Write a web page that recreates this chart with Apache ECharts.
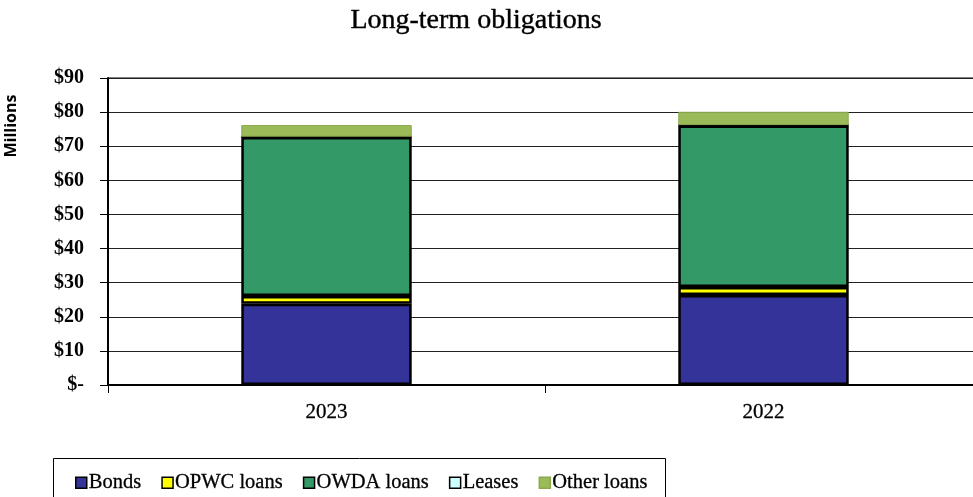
<!DOCTYPE html>
<html><head><meta charset="utf-8">
<script src="https://cdn.jsdelivr.net/npm/echarts@6/dist/echarts.min.js"></script>
<style>html,body{margin:0;padding:0;background:#fff}#c{width:973px;height:497px}</style>
</head><body><div id="c"></div>
<script>
const categories = ['2023', '2022'];
const bonds = [23.8, 26.4];
const opwcLoans = [2.3, 2.3];
const owdaLoans = [46.6, 47.4];
const leases = [0.1, 0.1];
const otherLoans = [3.4, 3.9];
const yTicks = [0, 10, 20, 30, 40, 50, 60, 70, 80, 90];

const serif = '"Liberation Serif", "DejaVu Serif", serif';
const chart = echarts.init(document.getElementById('c'), null, {renderer: 'canvas'});
function bar(name, data, color, border) {
  return {
    name: name, type: 'bar', stack: 'total', data: data, barWidth: '39%',
    itemStyle: {color: color, borderColor: border || '#000', borderWidth: border ? 1 : 2.5},
    emphasis: {disabled: true}
  };
}
chart.setOption({
  animation: false,
  title: {
    text: 'Long-term obligations', left: 471, top: 2, textAlign: 'center',
    textStyle: {fontFamily: serif, fontSize: 28, fontWeight: 'normal', color: '#000', textBorderColor: '#000', textBorderWidth: 0.4}
  },
  graphic: [
    {type: 'text', x: 11, y: 126, rotation: Math.PI / 2,
      style: {text: 'Millions', font: 'bold 16px "Open Sans", "DejaVu Sans", sans-serif', fill: '#000', textAlign: 'center', textVerticalAlign: 'middle'}},
    {type: 'rect', shape: {x: 53.5, y: 458.5, width: 612, height: 45}, style: {fill: 'none', stroke: '#000', lineWidth: 1}}
  ],
  grid: {left: 108, top: 78, width: 874, height: 307, outerBoundsMode: 'none', containLabel: false,
    show: true, borderColor: '#000', borderWidth: 1, backgroundColor: 'transparent'},
  legend: {
    left: 70, top: 467, itemWidth: 11, itemHeight: 11, itemGap: 20,
    icon: 'rect',
    itemStyle: {borderWidth: 1.5},
    textStyle: {fontFamily: serif, fontSize: 20.5, color: '#000', padding: [0, 0, 0, -3], textBorderColor: '#000', textBorderWidth: 0.3},
    data: ['Bonds', 'OPWC loans', 'OWDA loans', 'Leases', 'Other loans']
  },
  xAxis: {
    type: 'category', data: categories,
    axisLine: {lineStyle: {color: '#000', width: 2}},
    axisTick: {show: true, length: 8, lineStyle: {color: '#000', width: 1}},
    axisLabel: {fontFamily: serif, fontSize: 21, color: '#000', margin: 17, textBorderColor: '#000', textBorderWidth: 0.3}
  },
  yAxis: {
    type: 'value', min: 0, max: 90, interval: 10,
    axisLine: {show: true, lineStyle: {color: '#000', width: 2}},
    axisTick: {show: true, length: 8, lineStyle: {color: '#000', width: 1}},
    splitLine: {lineStyle: {color: '#222', width: 1}},
    axisLabel: {
      fontFamily: serif, fontSize: 20, fontWeight: 'bold', color: '#000', margin: 24,
      formatter: v => (yTicks.indexOf(v) >= 0 ? (v === 0 ? '$-' : '$' + v) : '')
    }
  },
  series: [
    bar('Bonds', bonds, '#333399'),
    bar('OPWC loans', opwcLoans, '#FFFF00'),
    bar('OWDA loans', owdaLoans, '#339966'),
    bar('Leases', leases, '#CCFFFF'),
    bar('Other loans', otherLoans, '#9BBB59', '#8AA84E')
  ]
});
</script></body></html>
